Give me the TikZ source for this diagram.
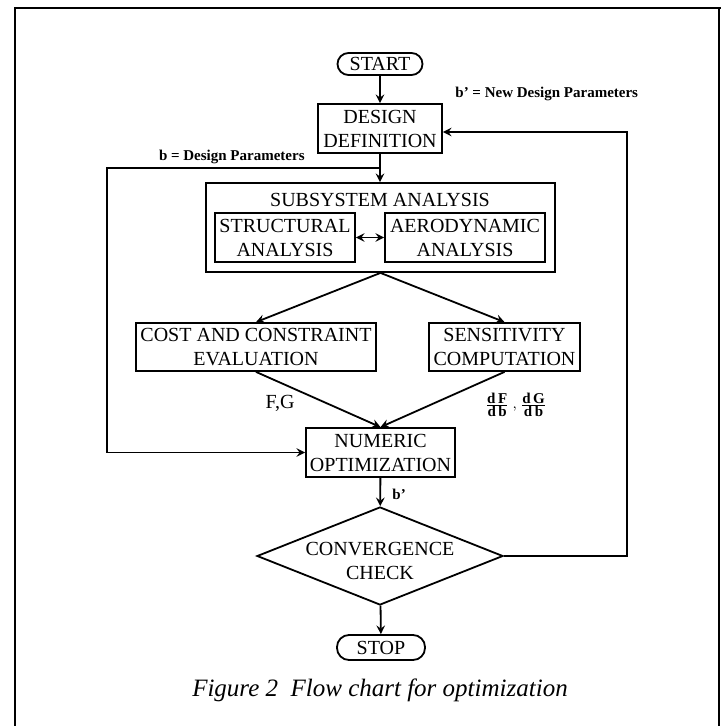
\documentclass[tikz,border=0pt]{standalone}
\usepackage{fontspec}
\setmainfont{Liberation Serif}
\usetikzlibrary{shapes,arrows,positioning}

\tikzset{
  blok/.style={draw,line width=0.9pt,align=center,inner sep=0pt,font=\fontsize{10}{12}\selectfont},
  term/.style={blok,rounded corners=5.5pt},
  lbl/.style={inner sep=0pt,font=\fontsize{7.5}{9}\selectfont\bfseries},
  flow/.style={line width=0.9pt,-stealth},
}

\begin{document}
\begin{tikzpicture}[x=0.5pt,y=-0.5pt]
\useasboundingbox (0,0) rectangle (721,726);
% frame round the figure
\draw[line width=0.8pt] (15,726) -- (15,8) -- (719,8) -- (721,8);
\draw[line width=0.8pt] (719,8) -- (719,726);

% boxes
\node[term,minimum width=42.5pt,minimum height=11pt] (start) at (380,64) {START};
\node[blok,minimum width=62pt,minimum height=24.5pt] (design) at (380,128.5) {DESIGN\\DEFINITION};
\node[blok,minimum width=174.5pt,minimum height=44.5pt] (subsys) at (380.5,227.5) {};
\node[inner sep=0pt,font=\fontsize{10}{12}\selectfont] (subtitle) at (380,200) {SUBSYSTEM ANALYSIS};
\node[blok,minimum width=70pt,minimum height=24.5pt] (struc) at (285,237.5) {STRUCTURAL\\ANALYSIS};
\node[blok,minimum width=80pt,minimum height=24.5pt] (aero) at (465,237.5) {AERODYNAMIC\\ANALYSIS};
\node[blok,minimum width=120pt,minimum height=24pt] (cost) at (256,347) {COST AND CONSTRAINT\\EVALUATION};
\node[blok,minimum width=75.5pt,minimum height=24pt] (sens) at (504.5,347) {SENSITIVITY\\COMPUTATION};
\node[blok,minimum width=74.5pt,minimum height=24.5pt] (numopt) at (380.5,452.5) {NUMERIC\\OPTIMIZATION};
\node[blok,diamond,aspect=2.5,inner sep=-4pt,minimum width=123pt,minimum height=49pt] (conv) at (380,556) {\rule{0pt}{12pt}CONVERGENCE\\CHECK};
\node[term,rounded corners=6pt,minimum width=44pt,minimum height=12.5pt] (stop) at (381,647.5) {STOP};

% connectors
\coordinate (bsplit) at (380,168);
\coordinate (bleft) at (107,168);
\coordinate (fbtop) at (627,132);
\draw[flow] (start) -- (design);
\draw[flow] (design.south) -- (design.south |- subsys.north);
\draw[flow] (bsplit) -- (bleft) |- (numopt.west);
\draw[line width=0.9pt,stealth-stealth] (struc) -- (aero);
\draw[flow] (subsys.south) -- (cost.north);
\draw[flow] (subsys.south) -- (sens.north);
\draw[flow] (cost.south) -- (numopt.north);
\draw[flow] (sens.south) -- (numopt.north);
\draw[flow] (numopt) -- (conv);
\draw[flow] (conv) -- (stop);
\draw[flow] (conv.east) -| (fbtop) -- (design.east |- fbtop);

% labels
\node[lbl,anchor=west] (bnew) at (455,94) {b' = New Design Parameters};
\node[lbl,anchor=east] (bdes) at (305,157) {b = Design Parameters};
\node[inner sep=0pt,font=\fontsize{10}{12}\selectfont] (fg) at (280,403) {F,G};
\node[lbl] (dfg) at (516,405) {$\frac{\hbox{d\,F}}{\hbox{d\,b}}\,,\frac{\hbox{d\,G}}{\hbox{d\,b}}$};
\node[lbl,anchor=west] (bprime) at (392,494) {b'};
\node[inner sep=0pt,font=\fontsize{12.5}{15}\selectfont\itshape] (caption) at (380,690) {Figure 2\ \ Flow chart for optimization};
\end{tikzpicture}
\end{document}
